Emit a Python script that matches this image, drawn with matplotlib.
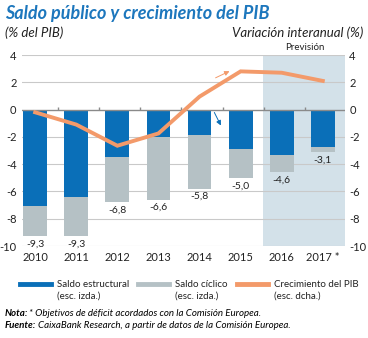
import matplotlib
matplotlib.use("Agg")
import matplotlib.pyplot as plt
from matplotlib.lines import Line2D
import numpy as np

plt.rcParams['font.family'] = ['Lato', 'DejaVu Sans']

years = ["2010", "2011", "2012", "2013", "2014", "2015", "2016", "2017 *"]
structural = [-7.1, -6.4, -3.45, -2.0, -1.9, -2.9, -3.3, -2.75]
total = [-9.3, -9.3, -6.8, -6.6, -5.8, -5.0, -4.6, -3.1]
total_labels = ["-9,3", "-9,3", "-6,8", "-6,6", "-5,8", "-5,0", "-4,6", "-3,1"]
gdp = [-0.2, -1.1, -2.65, -1.75, 0.95, 2.8, 2.7, 2.1]
yticks = [4, 2, 0, -2, -4, -6, -8, -10]

cyclical = [t - s for t, s in zip(total, structural)]

BLUE = "#0a6fb8"
GRAY = "#b5c1c5"
ORANGE = "#f39a6a"
SHADE = "#d3e1e9"
TITLE = "#1d77bd"

W, H = 368, 338
fig = plt.figure(figsize=(W / 100, H / 100), dpi=100)
ax = fig.add_axes([22 / W, 1 - 246 / H, (345 - 22) / W, (246 - 55) / H])

x = np.arange(len(years))
ax.set_xlim(-0.32, 7.54)
ax.set_ylim(-10, 4)

ax.axvspan(5.55, 7.54, color=SHADE, zorder=0, lw=0)
for yv in yticks:
    if yv != 0:
        ax.axhline(yv, color="#c9c9c9", lw=0.8, zorder=1)

ax.bar(x, structural, width=0.58, color=BLUE, zorder=2)
ax.bar(x, cyclical, bottom=structural, width=0.58, color=GRAY, zorder=2)

ax.axhline(0, color="#8a8a8a", lw=1.0, zorder=3)
ax.vlines(x[:-1] + 0.56, 0, 0.22, color="#8a8a8a", lw=1.0, zorder=3)

for xi, t, lab in zip(x, total, total_labels):
    ax.text(xi, t - 0.25, lab, ha="center", va="top", fontsize=7.5, color="#222222", zorder=4)

ax2 = ax.twinx()
ax2.set_ylim(-10, 4)
ax2.plot(x, gdp, color=ORANGE, lw=2.8, zorder=5, solid_joinstyle="miter")

ax.annotate("", xy=(4.79, 2.9), xytext=(4.33, 2.24),
            arrowprops=dict(arrowstyle="-|>", color=ORANGE, lw=0.7, mutation_scale=7))
ax.annotate("", xy=(4.55, -1.35), xytext=(4.33, -0.03),
            arrowprops=dict(arrowstyle="-|>", color=BLUE, lw=0.7, mutation_scale=7), zorder=4)

for a in (ax, ax2):
    for s in a.spines.values():
        s.set_visible(False)
    a.set_yticks(yticks)
    a.set_yticklabels([str(v) for v in yticks])
    a.tick_params(axis="y", length=0, labelsize=8, colors="#222222")
ax.tick_params(axis="y", pad=4)
ax2.tick_params(axis="y", pad=3)
ax.set_xticks(x)
ax.set_xticklabels(years)
ax.tick_params(axis="x", length=0, labelsize=8, colors="#222222", pad=4)

ax.text(6.55, 4.25, "Previsión", ha="center", va="bottom", fontsize=7, color="#222222")

fig.text(5 / W, 1 - 13 / H, "Saldo público y crecimiento del PIB", fontsize=13,
         fontweight="bold", fontstyle="italic", color=TITLE, va="center", ha="left")
fig.text(5 / W, 1 - 33 / H, "(% del PIB)", fontsize=9.5, fontstyle="italic",
         color="#222222", va="center", ha="left")
fig.text(363 / W, 1 - 33 / H, "Variación interanual (%)", fontsize=9.5, fontstyle="italic",
         color="#222222", va="center", ha="right")

legend_items = [
    (BLUE, "Saldo estructural\n(esc. izda.)", 20),
    (GRAY, "Saldo cíclico\n(esc. izda.)", 138),
    (ORANGE, "Crecimiento del PIB\n(esc. dcha.)", 237),
]
for col, lab, px in legend_items:
    fig.add_artist(Line2D([px / W, (px + 31) / W], [1 - 284 / H, 1 - 284 / H],
                          color=col, lw=3.5, transform=fig.transFigure))
    fig.text((px + 37) / W, 1 - 280 / H, lab, fontsize=7, color="#222222",
             va="top", ha="left", linespacing=1.3)

fig.text(5 / W, 1 - 313 / H, "Nota:", fontsize=7, fontweight="bold", fontstyle="italic",
         va="center", ha="left")
fig.text(5 / W, 1 - 325 / H, "Fuente:", fontsize=7, fontweight="bold", fontstyle="italic",
         va="center", ha="left")
fig.text(29 / W, 1 - 313 / H, "* Objetivos de déficit acordados con la Comisión Europea.",
         fontsize=7, fontstyle="italic", va="center", ha="left")
fig.text(38 / W, 1 - 325 / H, "CaixaBank Research, a partir de datos de la Comisión Europea.",
         fontsize=7, fontstyle="italic", va="center", ha="left")

fig.savefig("out.png", dpi=100)
